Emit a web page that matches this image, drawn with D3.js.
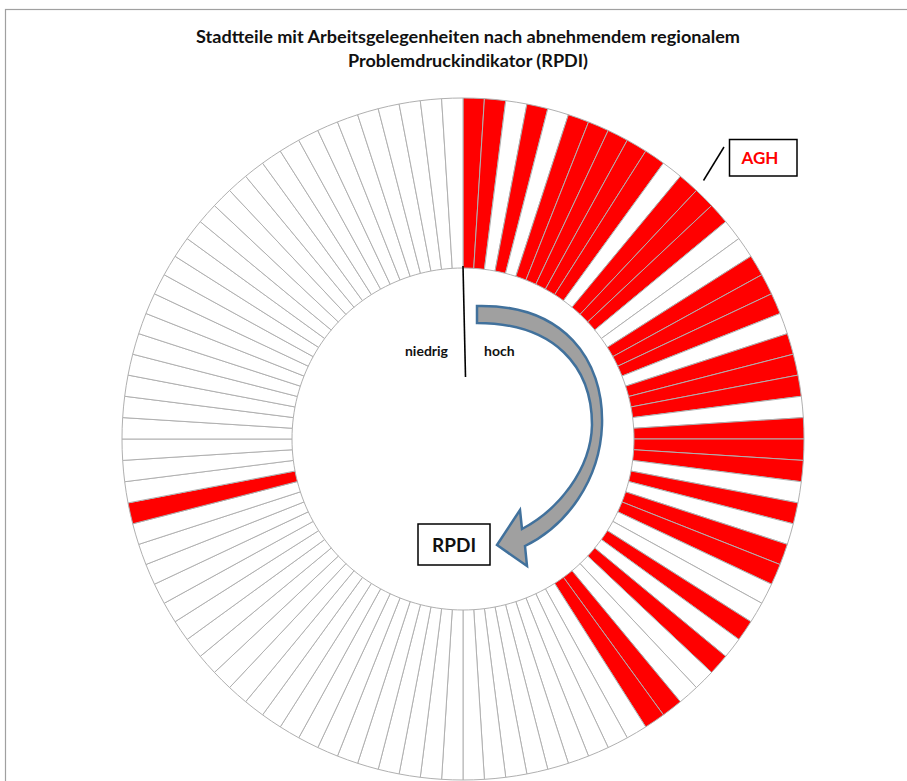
<!DOCTYPE html>
<html>
<head>
<meta charset="utf-8">
<script src="https://cdn.jsdelivr.net/npm/d3@7"></script>
<style>
  html, body { margin: 0; padding: 0; background: #fff; }
  svg { display: block; }
</style>
</head>
<body>
<svg id="chart" width="907" height="781"></svg>
<script>
// ---- Data ----
const titleLines = [
  "Stadtteile mit Arbeitsgelegenheiten nach abnehmendem regionalem",
  "Problemdruckindikator (RPDI)"
];
// Districts ordered by decreasing RPDI (clockwise from the top); 1 = district with AGH
const aghFlag = [
  1,1,0,1,0,1,1,1,1,1,
  0,1,1,1,0,0,1,1,1,0,
  1,1,1,0,1,1,1,0,1,0,
  1,1,0,0,1,0,1,0,0,1,
  1,0,0,0,0,0,0,0,0,0,
  0,0,0,0,0,0,0,0,0,0,
  0,0,0,0,0,0,0,0,0,0,
  0,1,0,0,0,0,0,0,0,0,
  0,0,0,0,0,0,0,0,0,0,
  0,0,0,0,0,0,0,0,0,0
];
const districtShare = 1; // every district gets an equal slice
const scaleLabels = ["niedrig", "hoch"];
const legendLabel = "AGH";
const axisLabel = "RPDI";

// ---- Layout ----
const svg = d3.select("#chart");
const cx = 463, cy = 439, rIn = 171, rOut = 341;

// frame
svg.append("rect").attr("x", 5.5).attr("y", 9.5).attr("width", 920).attr("height", 800)
  .attr("fill", "none").attr("stroke", "#a0a0a0").attr("stroke-width", 1.2);

// title
const titleFont = "bold 16.5px Lato, 'Open Sans', sans-serif";
const titleSpec = [{y: 43, w: 544}, {y: 67, w: 240}];
titleLines.forEach((t, i) => {
  svg.append("text").attr("x", 468).attr("y", titleSpec[i].y)
    .attr("text-anchor", "middle").style("font", titleFont).attr("fill", "#111")
    .attr("textLength", titleSpec[i].w).attr("lengthAdjust", "spacingAndGlyphs")
    .text(t);
});

// donut
const data = aghFlag.map((f, i) => ({rank: i + 1, agh: f, share: districtShare}));
const pie = d3.pie().value(d => d.share).sort(null).startAngle(0).endAngle(2 * Math.PI);
const arc = d3.arc().innerRadius(rIn).outerRadius(rOut);
const color = d3.scaleOrdinal().domain([0, 1]).range(["#ffffff", "#ff0000"]);

const g = svg.append("g").attr("transform", `translate(${cx},${cy})`);
g.selectAll("path.slice").data(pie(data)).join("path")
  .attr("class", "slice")
  .attr("d", arc)
  .attr("fill", d => color(d.data.agh))
  .attr("stroke", "#b0b0b0")
  .attr("stroke-width", 1);

// divider line between low and high
svg.append("line").attr("x1", 463).attr("y1", 266).attr("x2", 465.5).attr("y2", 377)
  .attr("stroke", "#000").attr("stroke-width", 1.6);

const labFont = "bold 14px Lato, 'Open Sans', sans-serif";
svg.append("text").attr("x", 448).attr("y", 356).attr("text-anchor", "end")
  .style("font", labFont).attr("fill", "#111").text(scaleLabels[0]);
svg.append("text").attr("x", 484).attr("y", 356).attr("text-anchor", "start")
  .style("font", labFont).attr("fill", "#111").text(scaleLabels[1]);

// curved arrow
const arrowPath = [
  "M477,306",
  "C564,304 604,360 602,425",
  "C600,481 566,526 525,546",
  "L527,566",
  "L497,545",
  "L520,510",
  "L522,529",
  "C558,510 591,470 592,425",
  "C592,367 555,323 477,323",
  "Z"
].join(" ");
svg.append("path").attr("d", arrowPath)
  .attr("fill", "#a0a0a0").attr("stroke", "#41719c").attr("stroke-width", 2.5)
  .attr("stroke-linejoin", "miter");

// RPDI box
svg.append("rect").attr("x", 418).attr("y", 524).attr("width", 72).attr("height", 41)
  .attr("fill", "#fff").attr("stroke", "#000").attr("stroke-width", 1.5);
svg.append("text").attr("x", 454).attr("y", 552).attr("text-anchor", "middle")
  .style("font", "bold 19px Lato, 'Open Sans', sans-serif").attr("fill", "#111").text(axisLabel);

// AGH legend box
svg.append("line").attr("x1", 703.5).attr("y1", 180.5).attr("x2", 724).attr("y2", 147)
  .attr("stroke", "#000").attr("stroke-width", 1.5);
svg.append("rect").attr("x", 729.5).attr("y", 139.5).attr("width", 67.5).attr("height", 36.5)
  .attr("fill", "#fff").attr("stroke", "#000").attr("stroke-width", 1.5);
svg.append("text").attr("x", 760).attr("y", 164).attr("text-anchor", "middle")
  .style("font", "bold 17px Lato, 'Open Sans', sans-serif").attr("fill", "#ff0000").text(legendLabel);
</script>
</body>
</html>
